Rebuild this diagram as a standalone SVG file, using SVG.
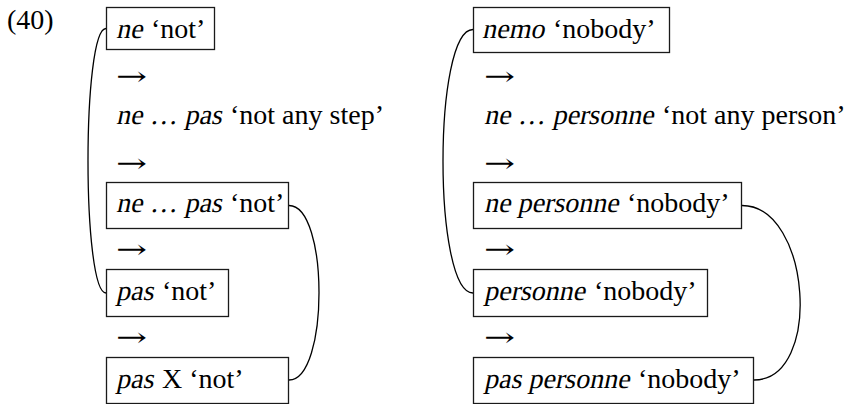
<svg xmlns="http://www.w3.org/2000/svg" width="851" height="404" viewBox="0 0 851 404">
<style>
.t{font-family:"Liberation Serif","Times New Roman",serif;font-size:28px;fill:#000}
.ar{font-family:"DejaVu Serif",serif;font-size:26px;fill:#000}
.box{fill:#fff;stroke:#1a1a1a;stroke-width:1.3}
.conn{fill:none;stroke:#000;stroke-width:1.3}
</style>
<rect width="851" height="404" fill="#fff"/>
<text id="label" class="t" x="7" y="29">(40)</text>
<g id="connectors">
<path class="conn" d="M106,28.5 C82,28.5 82,293 106,293"/>
<path class="conn" d="M289,205.5 C329,205.5 329,380 289,380"/>
<path class="conn" d="M473,29.5 C433,29.5 433,293 473,293"/>
<path class="conn" d="M742,205.5 C811,205.5 823,380 754,380"/>
</g>
<g id="l1"><rect class="box" x="106.5" y="7.5" width="108" height="42"/><text class="t" transform="translate(116,38) skewX(-12)">ne</text><text class="t" x="151" y="38">‘not’</text></g>
<g id="la1"><text class="ar" x="116" y="85" textLength="31" lengthAdjust="spacingAndGlyphs">→</text></g>
<g id="l2"><text class="t" transform="translate(116,124) skewX(-12)">ne … pas</text><text class="t" x="230" y="124">‘not any step’</text></g>
<g id="la2"><text class="ar" x="116" y="172" textLength="31" lengthAdjust="spacingAndGlyphs">→</text></g>
<g id="l3"><rect class="box" x="106.5" y="182.5" width="182" height="46"/><text class="t" transform="translate(116,212) skewX(-12)">ne … pas</text><text class="t" x="230" y="212">‘not’</text></g>
<g id="la3"><text class="ar" x="116" y="258" textLength="31" lengthAdjust="spacingAndGlyphs">→</text></g>
<g id="l4"><rect class="box" x="106.5" y="269.5" width="122" height="47"/><text class="t" transform="translate(116,300) skewX(-12)">pas</text><text class="t" x="162" y="300">‘not’</text></g>
<g id="la4"><text class="ar" x="116" y="346" textLength="31" lengthAdjust="spacingAndGlyphs">→</text></g>
<g id="l5"><rect class="box" x="106.5" y="357.5" width="182" height="46"/><text class="t" transform="translate(116,388) skewX(-12)">pas</text><text class="t" x="162" y="388">X ‘not’</text></g>
<g id="r1"><rect class="box" x="473.5" y="7.5" width="196" height="45"/><text class="t" transform="translate(482,38) skewX(-12)">nemo</text><text class="t" x="553" y="38">‘nobody’</text></g>
<g id="ra1"><text class="ar" x="484" y="85" textLength="31" lengthAdjust="spacingAndGlyphs">→</text></g>
<g id="r2"><text class="t" transform="translate(484,124) skewX(-12)">ne … personne</text><text class="t" x="662" y="124">‘not any person’</text></g>
<g id="ra2"><text class="ar" x="484" y="172" textLength="31" lengthAdjust="spacingAndGlyphs">→</text></g>
<g id="r3"><rect class="box" x="473.5" y="182.5" width="268" height="46"/><text class="t" transform="translate(484,212) skewX(-12)">ne personne</text><text class="t" x="627" y="212">‘nobody’</text></g>
<g id="ra3"><text class="ar" x="484" y="258" textLength="31" lengthAdjust="spacingAndGlyphs">→</text></g>
<g id="r4"><rect class="box" x="473.5" y="269.5" width="234" height="47"/><text class="t" transform="translate(484,300) skewX(-12)">personne</text><text class="t" x="594" y="300">‘nobody’</text></g>
<g id="ra4"><text class="ar" x="484" y="346" textLength="31" lengthAdjust="spacingAndGlyphs">→</text></g>
<g id="r5"><rect class="box" x="473.5" y="357.5" width="280" height="46"/><text class="t" transform="translate(484,388) skewX(-12)">pas personne</text><text class="t" x="638" y="388">‘nobody’</text></g>
</svg>
